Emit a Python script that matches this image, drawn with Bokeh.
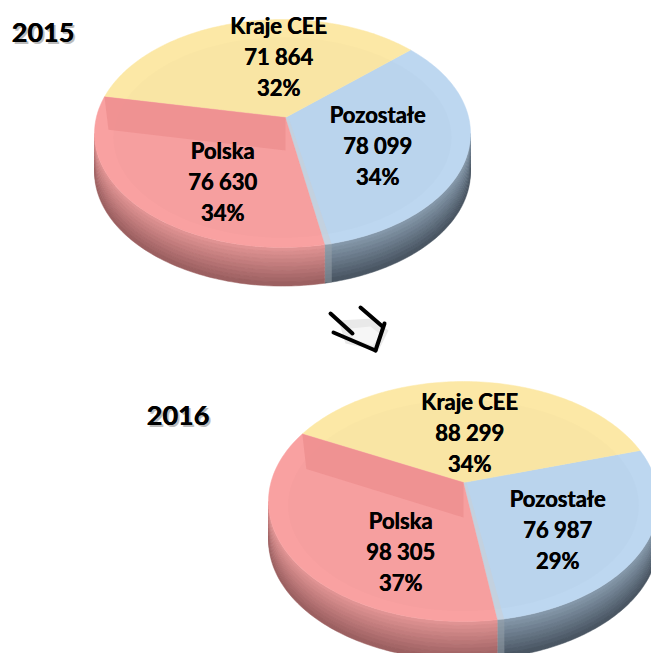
import numpy as np
from bokeh.plotting import figure
from bokeh.models import Range1d
from bokeh.embed import file_html
from bokeh.resources import INLINE
from bokeh.core.properties import value

# ---------------- data ----------------
years = ["2015", "2016"]
categories = ["Pozostałe", "Kraje CEE", "Polska"]          # counter-clockwise order
values_2015 = [78099, 71864, 76630]
values_2016 = [76987, 88299, 98305]
pct_2015 = [34, 32, 34]
pct_2016 = [29, 34, 37]

# ---------------- style / layout ----------------
FONT = value("Lato")
top_colors = {"Pozostałe": "#bdd7f0", "Kraje CEE": "#fce8a6", "Polska": "#f9a1a1"}
side_top = {"Pozostałe": "#8497a9", "Kraje CEE": "#d8c280", "Polska": "#e09393"}
side_bot = {"Pozostałe": "#4a5663", "Kraje CEE": "#9c874d", "Polska": "#9c6061"}
wall_color = "#ee9090"

layouts = [
    dict(cx=282, cy=133, rx=188, ry=114, vx=285, vy=117, depth=38, start=-77,
         wall=33, year_xy=(11, 32),
         labels={"Kraje CEE": (278, 25), "Pozostałe": (377, 114), "Polska": (222, 150)}),
    dict(cx=463, cy=501, rx=195, ry=120, vx=463, vy=482, depth=38, start=-80,
         wall=35, year_xy=(146, 415),
         labels={"Kraje CEE": (469, 401), "Pozostałe": (557, 498), "Polska": (400, 520)}),
]
series = [values_2015, values_2016]
pcts = [pct_2015, pct_2016]

W, H = 651, 653
p = figure(width=W, height=H, x_range=Range1d(0, W), y_range=Range1d(H, 0),
           output_backend="svg", toolbar_location=None, min_border=0)
p.axis.visible = False
p.grid.visible = False
p.outline_line_color = None
p.background_fill_color = "white"
p.border_fill_color = "white"


def hexmix(c1, c2, t):
    a = [int(c1[i:i + 2], 16) for i in (1, 3, 5)]
    b = [int(c2[i:i + 2], 16) for i in (1, 3, 5)]
    return "#%02x%02x%02x" % tuple(int(round(a[k] + (b[k] - a[k]) * t)) for k in range(3))


def ell(L, ang_deg, dy=0.0):
    a = np.radians(ang_deg)
    return L["cx"] + L["rx"] * np.cos(a), L["cy"] - L["ry"] * np.sin(a) + dy


def bold_text(xs, ys, texts, size, color="black", alpha=1.0, align="center"):
    for dx in (0.0, 0.5):
        p.text(x=[x + dx for x in xs], y=ys, text=texts,
               text_font=FONT, text_font_style="bold", text_font_size=size,
               text_color=color, text_alpha=alpha, text_align=align,
               text_baseline="middle")


for L, vals, pc, yr in zip(layouts, series, pcts, years):
    total = float(sum(vals))
    spans = [v / total * 360.0 for v in vals]
    bounds = [L["start"]]
    for s in spans:
        bounds.append(bounds[-1] + s)

    # ---- side (front half: 180..360 deg) drawn with shading bands ----
    nb = 10
    for cat, a0, a1 in zip(categories, bounds[:-1], bounds[1:]):
        for k in (-1, 0, 1):
            lo = max(a0, 180 + 360 * k)
            hi = min(a1, 360 + 360 * k)
            if hi <= lo:
                continue
            ang = np.linspace(lo, hi, 80)
            for b in range(nb):
                d0 = L["depth"] * b / nb
                d1 = L["depth"] * (b + 1) / nb + 0.6
                x0, y0 = ell(L, ang, d0)
                x1, y1 = ell(L, ang[::-1], d1)
                col = hexmix(side_top[cat], side_bot[cat], b / (nb - 1))
                p.patch(np.concatenate([x0, x1]), np.concatenate([y0, y1]),
                        fill_color=col, line_color=col, line_width=0.5)

    # ---- top face slices ----
    for cat, a0, a1 in zip(categories, bounds[:-1], bounds[1:]):
        ang = np.linspace(a0, a1, 120)
        x, y = ell(L, ang)
        xs = np.concatenate([[L["vx"]], x])
        ys = np.concatenate([[L["vy"]], y])
        p.patch(xs, ys, fill_color=top_colors[cat], line_color=top_colors[cat], line_width=0.5)

    # very subtle bevel ring on the top face
    ang = np.linspace(0, 360, 240)
    bx, by = ell(L, ang)
    ix = L["cx"] + (bx - L["cx"]) * 0.9
    iy = L["cy"] + 4 + (by - L["cy"]) * 0.88
    p.patch(ix, iy, fill_color="black", fill_alpha=0.012, line_color=None)

    # ---- exposed inner wall of the Polska slice (below CEE/Polska boundary) ----
    bang = bounds[2]
    px_, py_ = ell(L, bang)
    h = L["wall"]
    p.patch([px_, L["vx"], L["vx"], px_ + 4], [py_, L["vy"], L["vy"] + h, py_ + h],
            fill_color=wall_color, line_color=None, fill_alpha=0.9)

    # ---- thin lighter edge along Pozostałe / Polska boundary ----
    qx, qy = ell(L, bounds[0])
    p.patch([L["vx"], qx, qx + 7, L["vx"] + 3], [L["vy"], qy, qy, L["vy"]],
            fill_color="#c9cfd6", line_color=None, fill_alpha=0.6)
    p.patch([qx, qx + 7, qx + 7, qx], [qy, qy, qy + L["depth"], qy + L["depth"]],
            fill_color="#9aa3ab", line_color=None, fill_alpha=0.5)

    # ---- labels ----
    for cat, v, pcv in zip(categories, vals, pc):
        lx, ly = L["labels"][cat]
        lines = [cat, f"{v:,}".replace(",", " "), f"{pcv}%"]
        bold_text([lx] * 3, [ly + 31 * i for i in range(3)], lines, "22px")

    # ---- year title with soft shadow ----
    yx, yy = L["year_xy"]
    bold_text([yx + 2], [yy + 2], [yr], "27px", color="#888888", alpha=0.35, align="left")
    bold_text([yx], [yy], [yr], "27px", align="left")

# ---------------- arrow between the pies ----------------
p.patch([338, 372, 388, 378, 345], [320, 318, 330, 350, 343],
        fill_color="#cfcfcf", fill_alpha=0.45, line_color=None)
p.patch([350, 370, 380, 372, 352], [328, 326, 334, 345, 338],
        fill_color="#ffffff", fill_alpha=0.6, line_color=None)
p.segment(x0=[330, 333, 360, 384], y0=[313, 332, 307, 323],
          x1=[352, 375, 382, 375], y1=[333, 350, 326, 350],
          line_color="black", line_width=4, line_cap="round")

open("out.html", "w").write(file_html(p, INLINE))
